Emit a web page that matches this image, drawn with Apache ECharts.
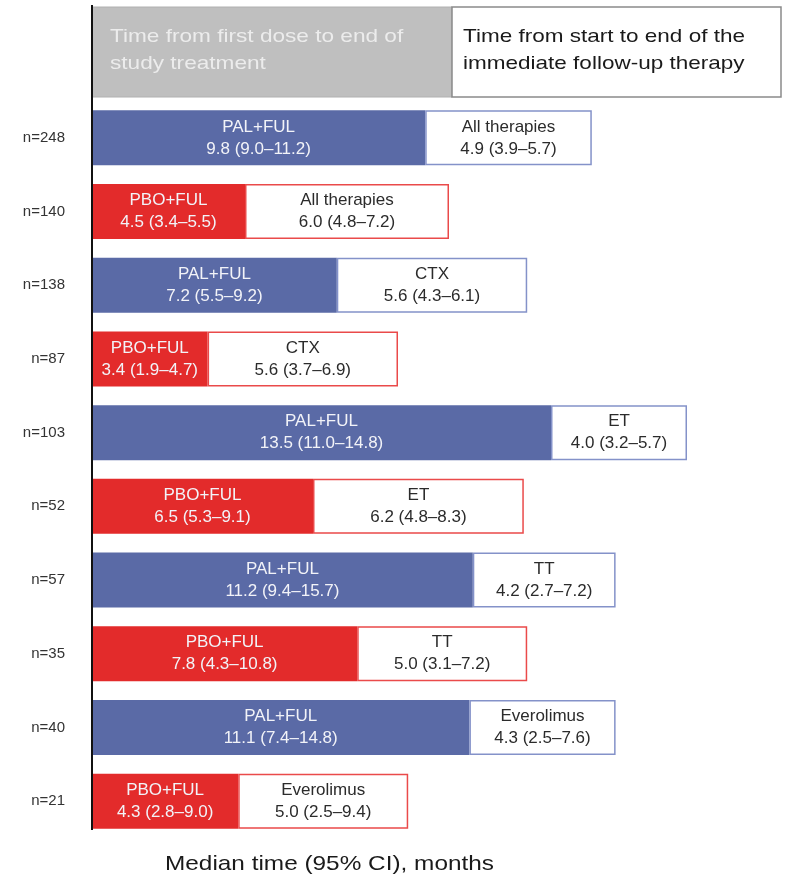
<!DOCTYPE html>
<html>
<head>
<meta charset="utf-8">
<script src="https://cdn.jsdelivr.net/npm/echarts@6/dist/echarts.min.js"></script>
<style>
  html, body { margin: 0; padding: 0; background: #fff; }
  #chart { width: 786px; height: 876px; }
</style>
</head>
<body>
<div id="chart"></div>
<script>
// Cohort sizes shown at the left of each row
const cohorts = ['n=248', 'n=140', 'n=138', 'n=87', 'n=103', 'n=52', 'n=57', 'n=35', 'n=40', 'n=21'];
// Study arm for each row
const arms = ['PAL+FUL', 'PBO+FUL', 'PAL+FUL', 'PBO+FUL', 'PAL+FUL', 'PBO+FUL', 'PAL+FUL', 'PBO+FUL', 'PAL+FUL', 'PBO+FUL'];
// Time from first dose to end of study treatment (median, months) and 95% CI
const treatMedian = [9.8, 4.5, 7.2, 3.4, 13.5, 6.5, 11.2, 7.8, 11.1, 4.3];
const treatCI = ['9.0–11.2', '3.4–5.5', '5.5–9.2', '1.9–4.7', '11.0–14.8', '5.3–9.1', '9.4–15.7', '4.3–10.8', '7.4–14.8', '2.8–9.0'];
// Immediate follow-up therapy: type, median duration (months) and 95% CI
const followType = ['All therapies', 'All therapies', 'CTX', 'CTX', 'ET', 'ET', 'TT', 'TT', 'Everolimus', 'Everolimus'];
const followMedian = [4.9, 6.0, 5.6, 5.6, 4.0, 6.2, 4.2, 5.0, 4.3, 5.0];
const followCI = ['3.9–5.7', '4.8–7.2', '4.3–6.1', '3.7–6.9', '3.2–5.7', '4.8–8.3', '2.7–7.2', '3.1–7.2', '2.5–7.6', '2.5–9.4'];

const BLUE = '#5a6aa6';
const RED = '#e32b2b';
const BLUE_EDGE = '#8492c9';
const RED_EDGE = '#ea4a4a';
const FONT = '"Liberation Sans", Arial, sans-serif';

const armColor = a => (a === 'PAL+FUL' ? BLUE : RED);
const armEdge = a => (a === 'PAL+FUL' ? BLUE_EDGE : RED_EDGE);

const chart = echarts.init(document.getElementById('chart'), null, { renderer: 'canvas' });

chart.setOption({
  animation: false,
  backgroundColor: '#fff',
  textStyle: { fontFamily: FONT },
  grid: { left: 92, top: 101, width: 680, height: 737, containLabel: false },
  xAxis: {
    type: 'value', min: 0, max: 20,
    axisLine: { show: false }, axisTick: { show: false },
    axisLabel: { show: false }, splitLine: { show: false }
  },
  yAxis: {
    type: 'category', inverse: true, data: cohorts,
    axisLine: { show: false }, axisTick: { show: false },
    axisLabel: { color: '#333', fontSize: 15, margin: 27, fontFamily: FONT },
    splitLine: { show: false }
  },
  series: [
    {
      name: 'Study treatment', type: 'bar', stack: 'time', barWidth: 55,
      data: treatMedian.map((v, i) => ({
        value: v,
        itemStyle: { color: armColor(arms[i]) }
      })),
      label: {
        show: true, position: 'inside', color: '#f2f3f8', fontSize: 17, lineHeight: 22,
        fontFamily: FONT,
        formatter: p => arms[p.dataIndex] + '\n' + treatMedian[p.dataIndex].toFixed(1) + ' (' + treatCI[p.dataIndex] + ')'
      }
    },
    {
      name: 'Follow-up therapy', type: 'bar', stack: 'time', barWidth: 55,
      data: followMedian.map((v, i) => ({
        value: v,
        itemStyle: { color: '#fff', borderColor: armEdge(arms[i]), borderWidth: 1.5 }
      })),
      label: {
        show: true, position: 'inside', color: '#2b2b2b', fontSize: 17, lineHeight: 22,
        fontFamily: FONT,
        formatter: p => followType[p.dataIndex] + '\n' + followMedian[p.dataIndex].toFixed(1) + ' (' + followCI[p.dataIndex] + ')'
      }
    }
  ],
  graphic: [
    // column headers
    {
      type: 'rect', x: 92, y: 7, z: 1,
      shape: { x: 0, y: 0, width: 360, height: 90 },
      style: { fill: '#bfbfbf', stroke: '#b0b0b0', lineWidth: 1 }
    },
    {
      type: 'rect', x: 452, y: 7, z: 1,
      shape: { x: 0, y: 0, width: 329, height: 90 },
      style: { fill: '#fff', stroke: '#8a8a8a', lineWidth: 1.5 }
    },
    {
      type: 'text', x: 110, y: 23, z: 2, scaleX: 1.19,
      style: {
        text: 'Time from first dose to end of\nstudy treatment',
        fill: '#ececec', font: '19px ' + FONT, lineHeight: 27,
        x: 0, y: 0, textVerticalAlign: 'top'
      }
    },
    {
      type: 'text', x: 463, y: 23, z: 2, scaleX: 1.185,
      style: {
        text: 'Time from start to end of the\nimmediate follow-up therapy',
        fill: '#1a1a1a', font: '19px ' + FONT, lineHeight: 27,
        x: 0, y: 0, textVerticalAlign: 'top'
      }
    },
    // vertical baseline
    {
      type: 'line', z: 3,
      shape: { x1: 92, y1: 5, x2: 92, y2: 830 },
      style: { stroke: '#111', lineWidth: 2 }
    },
    // axis title
    {
      type: 'text', x: 165, y: 864, z: 2, scaleX: 1.16,
      style: {
        text: 'Median time (95% CI), months', fill: '#1a1a1a', font: '21px ' + FONT,
        x: 0, y: 0, textVerticalAlign: 'middle'
      }
    }
  ]
});
</script>
</body>
</html>
